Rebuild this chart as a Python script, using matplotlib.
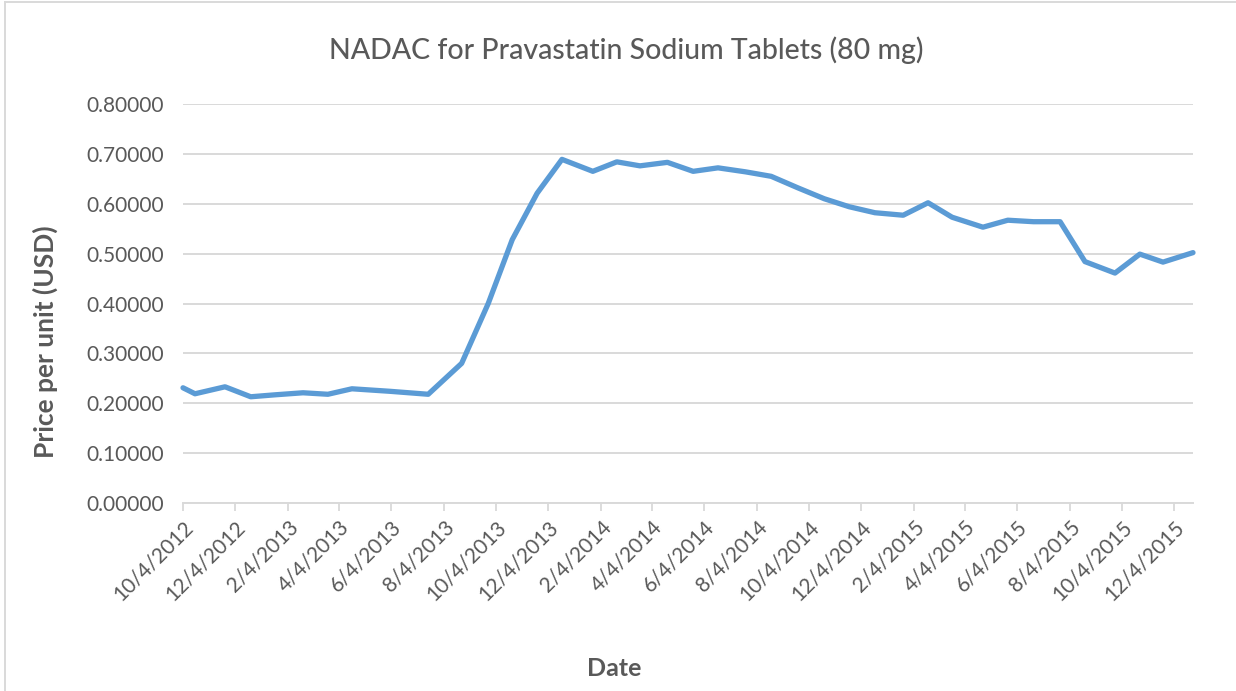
import matplotlib
matplotlib.use("Agg")
import matplotlib.pyplot as plt
import pandas as pd
from matplotlib.ticker import FormatStrFormatter
from matplotlib.lines import Line2D

# ---- data ----
dates = [
    "2012-10-04", "2012-10-18", "2012-11-22", "2012-12-22", "2013-01-20",
    "2013-02-21", "2013-03-22", "2013-04-19", "2013-06-02", "2013-07-17",
    "2013-08-25", "2013-09-25", "2013-10-23", "2013-11-21", "2013-12-20",
    "2014-01-25", "2014-02-22", "2014-03-21", "2014-04-22", "2014-05-22",
    "2014-06-20", "2014-07-22", "2014-08-21", "2014-09-21", "2014-10-22",
    "2014-11-20", "2014-12-20", "2015-01-22", "2015-02-20", "2015-03-20",
    "2015-04-25", "2015-05-24", "2015-06-23", "2015-07-24", "2015-08-22",
    "2015-09-26", "2015-10-25", "2015-11-21", "2015-12-26",
]
prices = [
    0.231, 0.219, 0.233, 0.213, 0.217,
    0.221, 0.218, 0.229, 0.224, 0.218,
    0.280, 0.400, 0.528, 0.621, 0.689,
    0.665, 0.684, 0.676, 0.683, 0.665,
    0.672, 0.664, 0.655, 0.632, 0.610,
    0.594, 0.582, 0.577, 0.602, 0.573,
    0.553, 0.567, 0.564, 0.564, 0.484,
    0.461, 0.499, 0.483, 0.502,
]
tick_dates = [
    "2012-10-04", "2012-12-04", "2013-02-04", "2013-04-04", "2013-06-04",
    "2013-08-04", "2013-10-04", "2013-12-04", "2014-02-04", "2014-04-04",
    "2014-06-04", "2014-08-04", "2014-10-04", "2014-12-04", "2015-02-04",
    "2015-04-04", "2015-06-04", "2015-08-04", "2015-10-04", "2015-12-04",
]
y_ticks = [0.0, 0.1, 0.2, 0.3, 0.4, 0.5, 0.6, 0.7, 0.8]

title = "NADAC for Pravastatin Sodium Tablets (80 mg)"
x_label = "Date"
y_label = "Price per unit (USD)"

# ---- style ----
FONT = ["Lato", "DejaVu Sans"]
plt.rcParams["font.family"] = FONT
TEXT = "#595959"
GRID = "#d9d9d9"
LINE = "#5b9bd5"

W, H = 1236, 691
fig = plt.figure(figsize=(W / 100, H / 100), dpi=100)
fig.patch.set_facecolor("white")

left, right, top, bottom = 183, 1193, 104, 503
ax = fig.add_axes([left / W, 1 - bottom / H, (right - left) / W, (bottom - top) / H])

x = pd.to_datetime(dates)
ax.plot(x, prices, color=LINE, lw=3.8, solid_joinstyle="round", solid_capstyle="round",
        clip_on=False, zorder=3)

ax.set_xlim(x[0], x[-1])
ax.set_ylim(y_ticks[0], y_ticks[-1])

td = pd.to_datetime(tick_dates)
ax.set_xticks(td)
ax.set_xticklabels([f"{d.month}/{d.day}/{d.year}" for d in td], rotation=45,
                   ha="right", va="top", rotation_mode="anchor")
ax.set_yticks(y_ticks)
ax.yaxis.set_major_formatter(FormatStrFormatter("%.5f"))

ax.tick_params(axis="x", direction="out", length=6, width=1.3, color=GRID,
               labelcolor=TEXT, labelsize=15, pad=4)
ax.tick_params(axis="y", length=0, labelcolor=TEXT, labelsize=15, pad=14)

ax.yaxis.grid(True, color=GRID, lw=1.4)
ax.xaxis.grid(False)
ax.set_axisbelow(True)
for s in ["top", "right", "left"]:
    ax.spines[s].set_visible(False)
ax.spines["bottom"].set_color(GRID)
ax.spines["bottom"].set_linewidth(1.4)

fig.text(626 / W, 1 - 50 / H, title, ha="center", va="center", fontsize=20.5,
         fontweight="medium", color=TEXT)
fig.text(45 / W, 1 - 342 / H, y_label, ha="center", va="center", rotation=90,
         fontsize=19, fontweight="bold", color=TEXT)
fig.text(614 / W, 1 - 668 / H, x_label, ha="center", va="center",
         fontsize=18, fontweight="bold", color=TEXT)

# chart-area border (top and left visible in reference)
fig.add_artist(Line2D([5 / W, 5 / W], [0, 1 - 2 / H], transform=fig.transFigure,
                      color=GRID, lw=1.4))
fig.add_artist(Line2D([5 / W, 1], [1 - 2 / H, 1 - 2 / H], transform=fig.transFigure,
                      color=GRID, lw=1.4))

fig.savefig("out.png", dpi=100)
